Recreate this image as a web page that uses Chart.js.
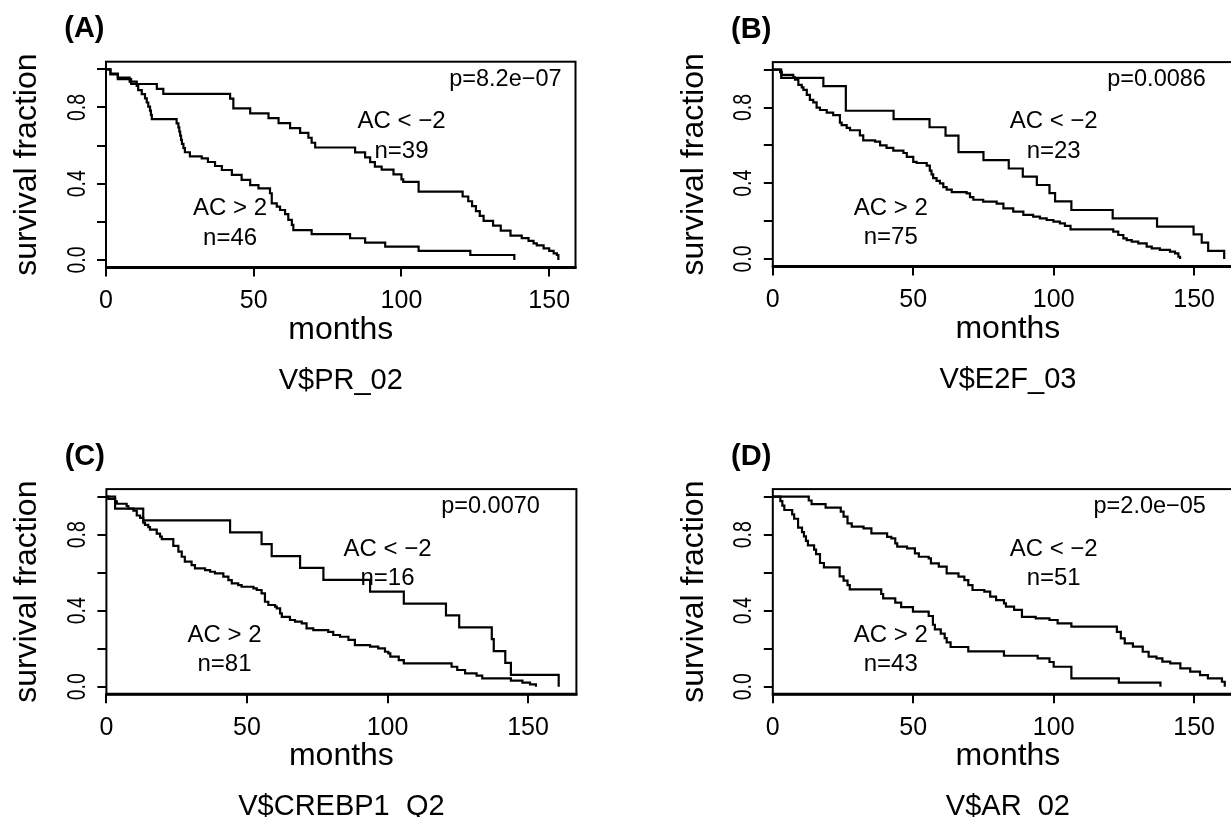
<!DOCTYPE html>
<html><head><meta charset="utf-8">
<script src="https://cdn.jsdelivr.net/npm/chart.js@4"></script>
<style>
html,body{margin:0;padding:0;background:#fff;}
body{width:1231px;height:817px;overflow:hidden;position:relative;}
canvas{position:absolute;}
</style></head><body>
<canvas id="cA" width="615" height="410" style="left:0;top:0"></canvas>
<canvas id="cB" width="700" height="410" style="left:615px;top:0"></canvas>
<canvas id="cC" width="615" height="407" style="left:0;top:410px"></canvas>
<canvas id="cD" width="700" height="407" style="left:615px;top:410px"></canvas>
<script>
// ---------- data ----------
const xTickValues = [0, 50, 100, 150];
const yLabelValues = [0, 0.4, 0.8];
const yTickLabels = ["0.0", "0.4", "0.8"];
const panelLetters = ["(A)", "(B)", "(C)", "(D)"];
const motifNames = ["V$PR_02", "V$E2F_03", "V$CREBP1_Q2", "V$AR_02"];
const pValues = ["p=8.2e\u221207", "p=0.0086", "p=0.0070", "p=2.0e\u221205"];
const groupNames = ["AC < \u22122", "AC > 2"];
const nNeg = [39, 23, 16, 51];
const nPos = [46, 75, 81, 43];

// (A) V$PR_02
const aNegT = [0,1.5,4,8.5,17.2,19.4,42,43.1,48.8,55,58.4,62.3,65.7,68.5,69.6,70.8,84.3,87.7,89.4,91,93.3,97.3,100,100.6,105.8,120.7,122.6,123.9,125.2,126.5,127.8,131,133.6,136.9,140.7,143,144.7,145.8,148.1,150,151.5,152.6,153.1];
const aNegS = [1,0.974,0.949,0.923,0.897,0.871,0.846,0.795,0.769,0.744,0.718,0.692,0.667,0.641,0.615,0.590,0.564,0.538,0.513,0.490,0.474,0.449,0.423,0.410,0.359,0.333,0.308,0.282,0.256,0.231,0.205,0.180,0.154,0.128,0.115,0.100,0.087,0.077,0.061,0.048,0.035,0.026,0];
const aPosT = [0,1.5,4,8,10.4,10.9,12.1,13.2,13.8,14.3,14.9,15.2,15.5,23.9,24.5,24.8,25.1,25.4,25.7,26.2,26.7,28.4,32.4,34.5,36.9,39.2,42.6,45.9,48.8,51.6,55.5,56.1,57.8,58.9,60.6,61.7,62.9,63.4,69.6,82.6,87.7,94.5,105.8,123.3,138.2];
const aPosS = [1,0.978,0.957,0.935,0.913,0.891,0.870,0.848,0.826,0.804,0.783,0.761,0.739,0.717,0.696,0.674,0.652,0.630,0.609,0.587,0.565,0.543,0.533,0.514,0.493,0.472,0.446,0.420,0.393,0.376,0.350,0.297,0.280,0.262,0.241,0.210,0.184,0.157,0.136,0.114,0.091,0.070,0.048,0.026,0];

// (B) V$E2F_03
const bNegT = [0,3.0,18,26,43,55.8,61.5,66.1,75,84,89,94,98.5,100.5,106.3,121,136.8,149.8,152.7,155,160.7];
const bNegS = [1,0.957,0.913,0.783,0.739,0.696,0.652,0.565,0.522,0.478,0.435,0.391,0.348,0.304,0.259,0.215,0.171,0.130,0.087,0.043,0];
const bPosT = [0,2.6,3.2,7.3,7.9,9.1,10.3,10.9,12.1,13.2,14.4,15.6,16.8,19.2,21.5,23.9,24.5,26.3,27.5,31.0,32.2,36.4,38.2,40.5,42.9,46.5,47.7,50.0,51.2,54.8,55.9,56.5,57.1,58.3,59.5,60.7,61.9,63.7,69.0,70.2,71.4,74.9,79.7,82.1,85.6,89.2,92.7,95.1,97.5,99.9,102.2,104,106,121.2,123.0,124.8,126.0,127.8,130.1,133.1,134.9,137.8,141.4,143.2,144.4,145.0];
const bPosS = [1,0.987,0.973,0.960,0.947,0.920,0.907,0.893,0.867,0.840,0.827,0.800,0.787,0.773,0.760,0.720,0.707,0.693,0.680,0.653,0.627,0.620,0.600,0.587,0.573,0.560,0.540,0.513,0.507,0.493,0.467,0.447,0.427,0.413,0.400,0.380,0.367,0.353,0.347,0.327,0.313,0.303,0.293,0.267,0.250,0.233,0.224,0.215,0.206,0.197,0.188,0.175,0.157,0.145,0.127,0.109,0.100,0.092,0.083,0.065,0.056,0.048,0.039,0.030,0.012,0];

// (C) V$CREBP1_Q2
const cNegT = [0,3.1,13.1,44.0,55.2,58.8,68.9,77.2,93.8,105.8,120.8,125.5,137.1,137.8,141.9,143.9,160.9];
const cNegS = [1,0.9375,0.875,0.8125,0.75,0.6875,0.625,0.5625,0.5,0.4375,0.375,0.3125,0.25,0.1875,0.125,0.0625,0];
const cPosT = [0,0.7,3.1,3.7,7.2,7.8,9.6,10.8,12.0,13.1,13.7,14.9,15.5,17.9,19.1,19.7,23.8,25.6,26.8,27.9,30.3,31.5,35.1,36.9,38.6,41.6,43.4,44.6,46.9,48.1,52.3,53.5,55.2,56.4,57.6,60.0,60.6,61.8,62.4,65.3,67.1,69.5,71.2,73.6,78.9,80.7,83.1,86.1,88.4,93.8,96.7,99.1,100.3,101,104,105.8,122.8,124.8,127.6,131.7,133.7,143.9,148.0,150.7,152.8];
const cPosS = [1,0.988,0.975,0.963,0.951,0.938,0.926,0.901,0.889,0.864,0.852,0.840,0.827,0.806,0.790,0.777,0.741,0.711,0.684,0.658,0.640,0.623,0.614,0.605,0.596,0.579,0.561,0.544,0.535,0.526,0.518,0.509,0.491,0.447,0.430,0.421,0.412,0.386,0.368,0.351,0.342,0.333,0.307,0.298,0.289,0.272,0.263,0.246,0.219,0.211,0.202,0.184,0.175,0.158,0.140,0.123,0.105,0.088,0.070,0.058,0.044,0.032,0.021,0.012,0];

// (D) V$AR_02
const dNegT = [0,12.8,13.8,18.8,24.2,25.2,26.6,28.1,32.3,35.1,40.7,42.2,43.6,44.3,47.8,50.6,52.0,55.5,56.3,59.1,61.9,66.1,68.2,69.6,71.1,75.3,77.4,79.5,82.3,83.0,85.9,88.7,93.6,98.5,101.4,106.3,122.5,123.9,125.3,128.2,131.7,133.8,136.6,138.7,141.5,145.1,148.6,152.1,154.9,159.9,160.9];
const dNegS = [1,0.980,0.961,0.942,0.921,0.895,0.860,0.842,0.833,0.807,0.789,0.781,0.754,0.737,0.728,0.702,0.684,0.675,0.649,0.632,0.596,0.579,0.561,0.535,0.509,0.500,0.474,0.456,0.439,0.421,0.404,0.368,0.360,0.351,0.333,0.316,0.289,0.254,0.228,0.211,0.184,0.158,0.149,0.132,0.123,0.096,0.079,0.061,0.044,0.026,0];
const dPosT = [0,2.7,3.4,4.1,6.9,7.6,9.0,10.4,11.1,11.8,12.5,14.7,15.4,16.8,18.2,23.8,25.2,26.6,27.4,38.6,39.3,43.6,45.7,49.9,55.5,57.0,57.7,59.8,61.2,61.9,63.3,69.6,82.3,94.3,98.5,100.0,106.3,123.2,138.0];
const dPosS = [1,0.977,0.953,0.930,0.907,0.884,0.837,0.814,0.791,0.767,0.744,0.721,0.698,0.651,0.628,0.581,0.558,0.535,0.512,0.488,0.465,0.442,0.419,0.395,0.372,0.326,0.302,0.279,0.256,0.233,0.209,0.186,0.163,0.149,0.130,0.105,0.044,0.021,0];

const curves = [
  [[aNegT, aNegS], [aPosT, aPosS]],
  [[bNegT, bNegS], [bPosT, bPosS]],
  [[cNegT, cNegS], [cPosT, cPosS]],
  [[dNegT, dNegS], [dPosT, dPosS]]
];

// ---------- layout / style ----------
const FONT = "'Liberation Sans', Arial, Helvetica, sans-serif";
const panels = [
  {id:'cA', w:615, h:410, L:106,   R:575.5, T:61.7, B:267.6, xMax:158.9},
  {id:'cB', w:700, h:410, L:157.8, R:628,   T:62.1, B:266.6, xMax:167.4},
  {id:'cC', w:615, h:407, L:106.4, R:576.4, T:79.1, B:284.3, xMax:167.2},
  {id:'cD', w:700, h:407, L:157.8, R:628,   T:79.1, B:284.3, xMax:167.4}
];
const Y_AXIS_W = 40, X_AXIS_H = 50;

function decoPlugin(i) {
  return {
    id: 'deco' + i,
    afterDraw(chart) {
      const ctx = chart.ctx, a = chart.chartArea;
      const xs = chart.scales.x, ys = chart.scales.y;
      ctx.save();
      ctx.strokeStyle = '#000';
      ctx.lineWidth = 2;
      ctx.strokeRect(a.left, a.top, a.right - a.left, a.bottom - a.top);
      // heavier bottom axis line (axis drawn over the box)
      ctx.lineWidth = 3;
      ctx.beginPath();
      ctx.moveTo(a.left - 1, a.bottom);
      ctx.lineTo(a.right + 1, a.bottom);
      ctx.stroke();
      ctx.fillStyle = '#000';
      // y tick labels (rotated)
      ctx.font = '25px ' + FONT;
      yLabelValues.forEach((v, k) => {
        const y = ys.getPixelForValue(v);
        ctx.save();
        ctx.translate(a.left - 21.5, y);
        ctx.rotate(-Math.PI / 2);
        ctx.scale(0.78, 1);
        ctx.textAlign = 'center';
        ctx.textBaseline = 'alphabetic';
        ctx.fillText(yTickLabels[k], 0, 0);
        ctx.restore();
      });
      // y axis title
      ctx.save();
      ctx.font = '32px ' + FONT;
      ctx.translate(a.left - 70, (a.top + a.bottom) / 2);
      ctx.rotate(-Math.PI / 2);
      ctx.textAlign = 'center';
      ctx.textBaseline = 'alphabetic';
      ctx.fillText('survival fraction', 0, 0);
      ctx.restore();
      const cx = (a.left + a.right) / 2;
      // x axis title
      ctx.font = '32px ' + FONT;
      ctx.textAlign = 'center';
      ctx.textBaseline = 'alphabetic';
      ctx.fillText('months', cx, a.bottom + 71);
      // subtitle
      ctx.font = '29px ' + FONT;
      ctx.fillText(motifNames[i], cx, a.bottom + 121);
      // panel letter
      ctx.font = 'bold 29px ' + FONT;
      ctx.textAlign = 'right';
      ctx.fillText(panelLetters[i], a.left - 1.5, a.top - 24.4);
      // p-value
      ctx.font = '23.5px ' + FONT;
      ctx.textAlign = 'right';
      ctx.fillText(pValues[i], xs.getPixelForValue(154.2), ys.getPixelForValue(0.915));
      // group annotations
      ctx.font = '24px ' + FONT;
      ctx.textAlign = 'center';
      ctx.textBaseline = 'middle';
      ctx.fillText(groupNames[0], xs.getPixelForValue(100), ys.getPixelForValue(0.725));
      ctx.fillText('n=' + nNeg[i], xs.getPixelForValue(100), ys.getPixelForValue(0.568));
      ctx.fillText(groupNames[1], xs.getPixelForValue(42), ys.getPixelForValue(0.27));
      ctx.fillText('n=' + nPos[i], xs.getPixelForValue(42), ys.getPixelForValue(0.115));
      ctx.restore();
    }
  };
}

panels.forEach((p, i) => {
  const datasets = curves[i].map(([T, S], k) => ({
    label: groupNames[k],
    data: T.map((t, j) => ({x: t, y: S[j]})),
    stepped: true,
    borderColor: '#000',
    borderWidth: 2.2,
    pointRadius: 0,
    fill: false,
    tension: 0
  }));
  new Chart(document.getElementById(p.id), {
    type: 'line',
    data: { datasets },
    options: {
      responsive: false,
      animation: false,
      devicePixelRatio: 1,
      layout: { padding: {
        left: p.L - Y_AXIS_W, right: p.w - p.R,
        top: p.T, bottom: p.h - p.B - X_AXIS_H } },
      plugins: { legend: {display: false}, tooltip: {enabled: false}, title: {display: false} },
      scales: {
        x: {
          type: 'linear', min: 0, max: p.xMax,
          afterFit(s) { s.height = X_AXIS_H; },
          afterBuildTicks(s) { s.ticks = xTickValues.map(v => ({value: v})); },
          ticks: { stepSize: 50, includeBounds: false, autoSkip: false, maxRotation: 0,
                   color: '#000', padding: 10, font: {family: FONT, size: 25} },
          grid: { drawOnChartArea: false, drawTicks: true, tickLength: 9, color: '#000', lineWidth: 2 },
          border: { display: false }
        },
        y: {
          type: 'linear', min: -0.04, max: 1.04,
          afterFit(s) { s.width = Y_AXIS_W; },
          ticks: { stepSize: 0.2, includeBounds: false, display: false },
          grid: { drawOnChartArea: false, drawTicks: true, tickLength: 9, color: '#000', lineWidth: 2 },
          border: { display: false }
        }
      }
    },
    plugins: [decoPlugin(i)]
  });
});
</script>
</body></html>
